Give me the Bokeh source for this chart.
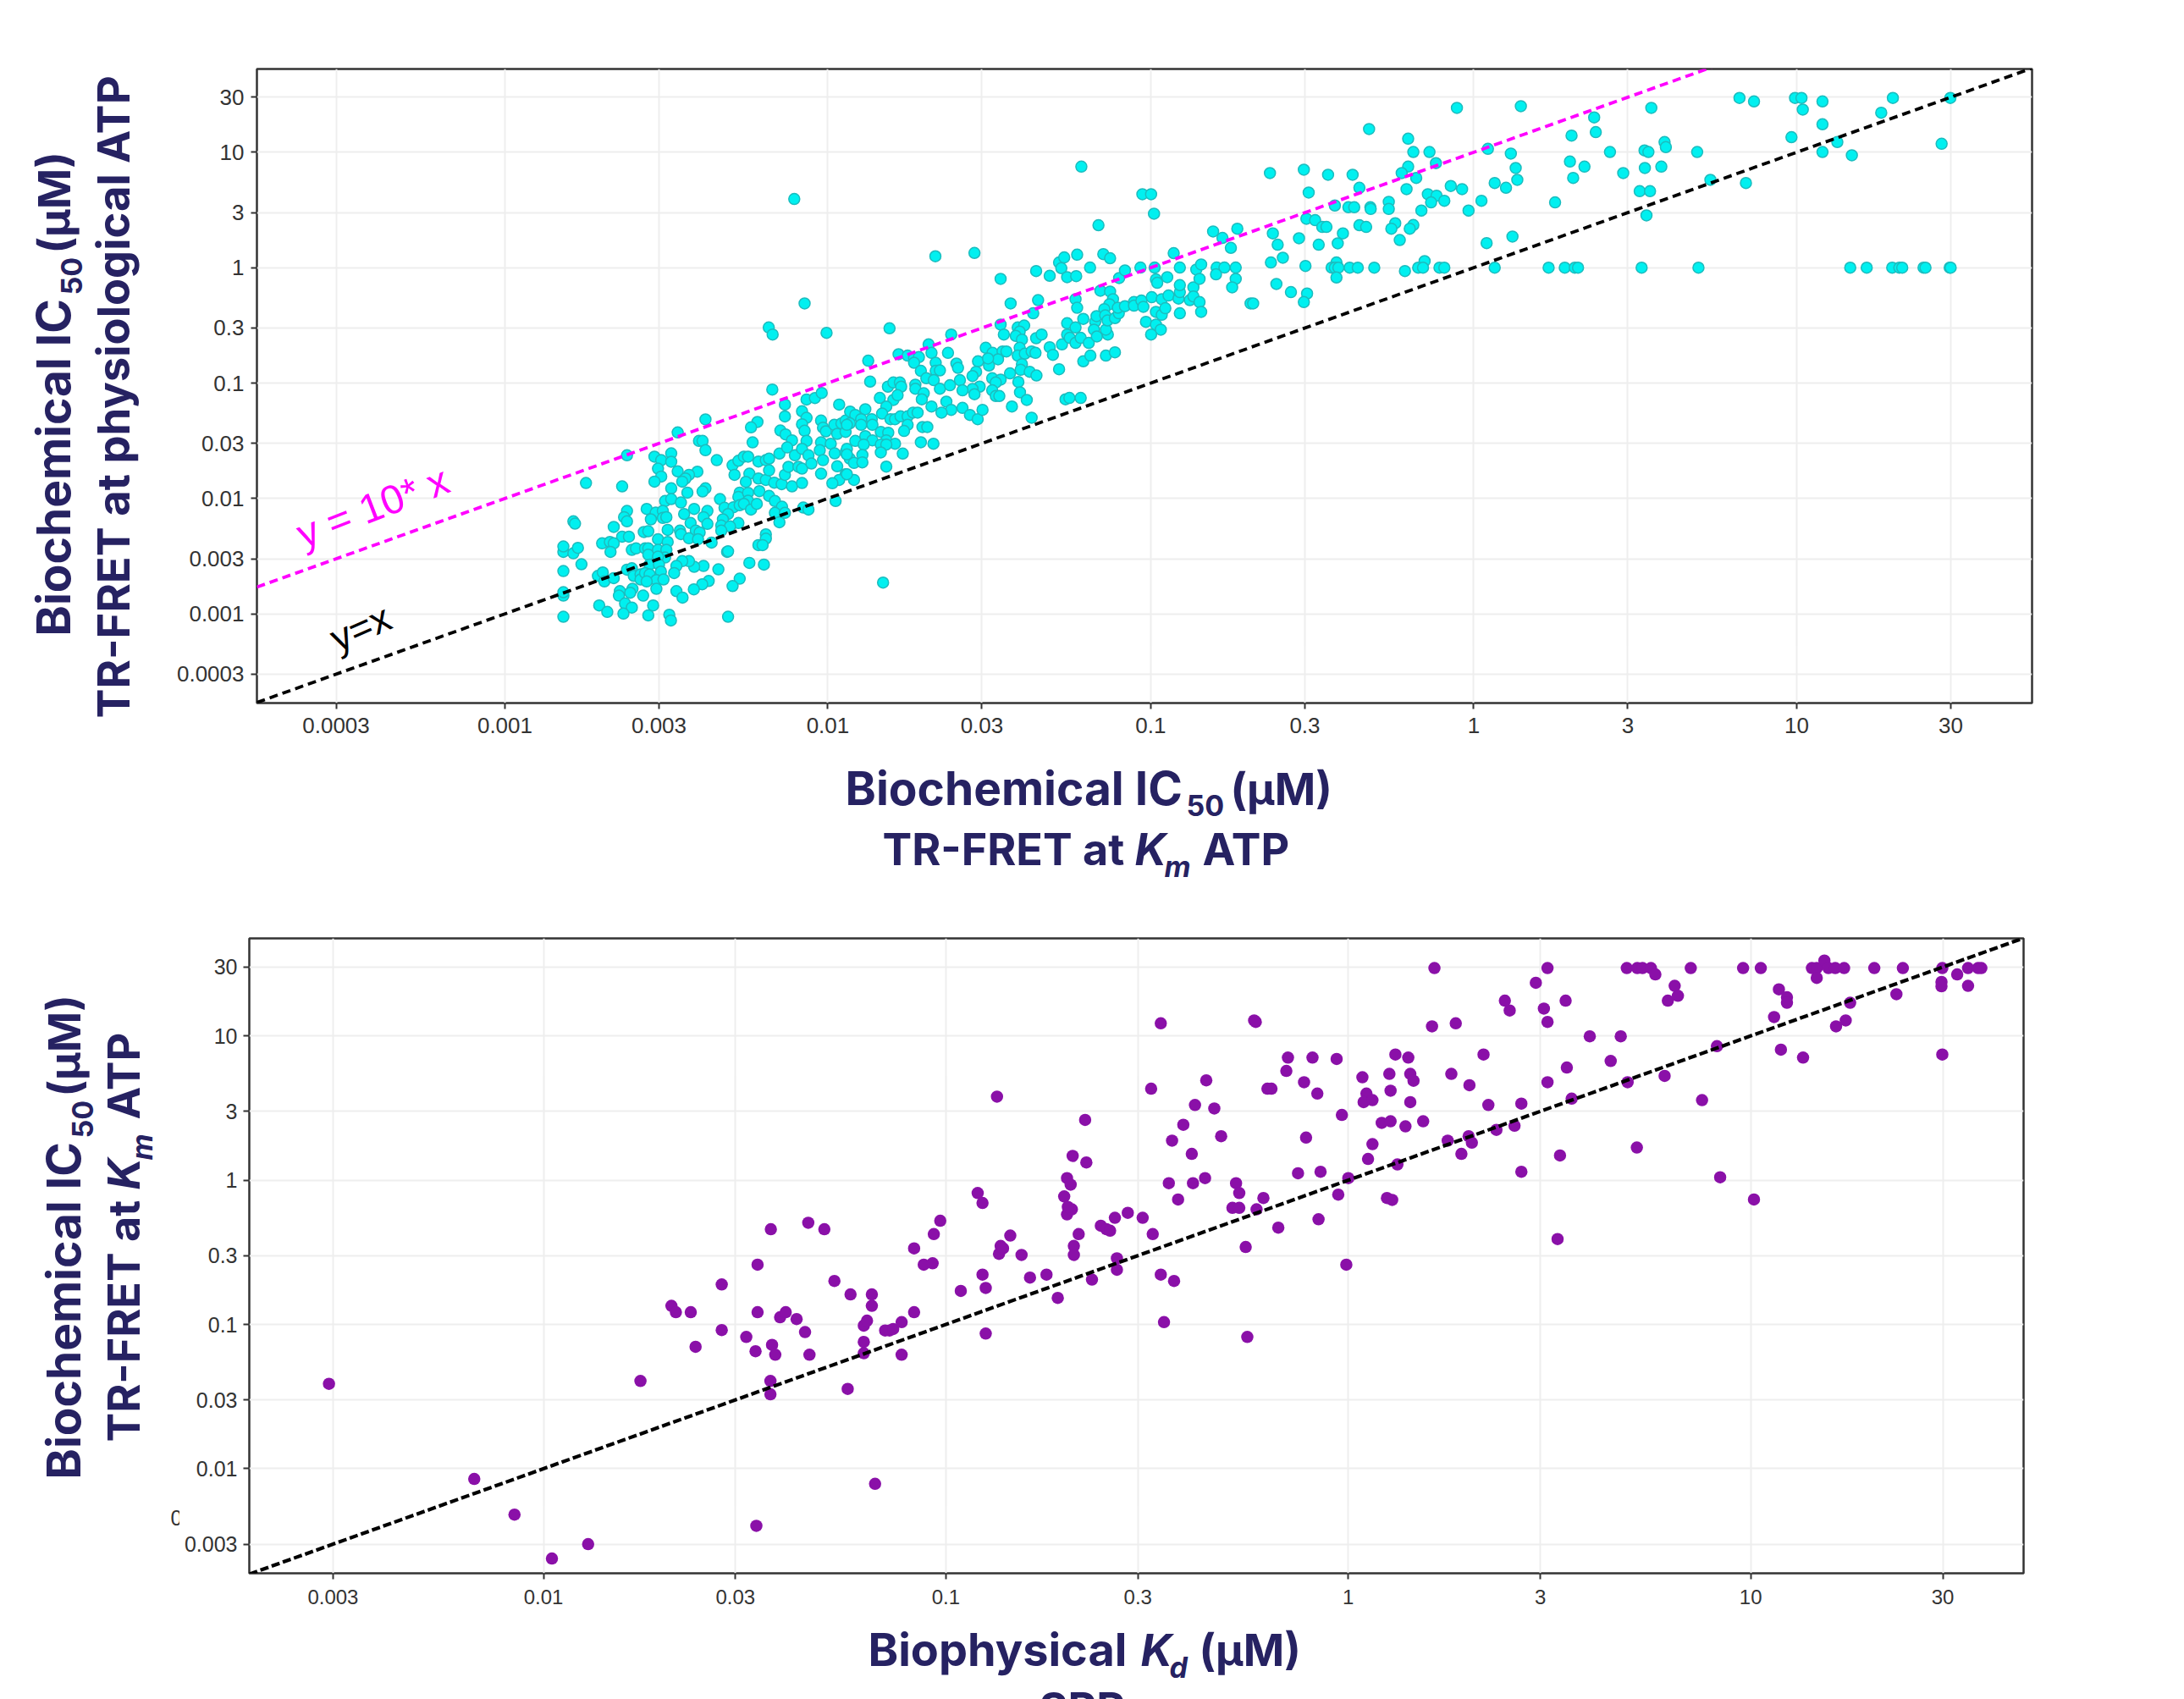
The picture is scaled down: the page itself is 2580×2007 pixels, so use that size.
from bokeh.plotting import figure
from bokeh.layouts import column, row
from bokeh.models import Range1d, FixedTicker, Label
from bokeh.embed import file_html
from bokeh.resources import INLINE
import numpy as np

# log10 of the values (uM) -- top panel, x = Km ATP, y = physiological ATP
low_x = [-2.819,-2.819,-2.819,-2.819,-2.819,-2.819,-2.788,-2.774,-2.763,-2.788,-2.783,-2.749,-2.637,-2.622,-2.465,-2.379,-2.399,-2.388,-2.379,-2.344,
-2.537,-2.516,-2.485,-2.485,-2.526,-2.516,-2.537,-2.465,-2.404,-2.430,-2.441,-2.451,-2.485,-2.435,-2.379,-2.388,-2.504,-2.485,-2.455,-2.622,
-2.631,-2.622,-2.663,-2.561,-2.533,-2.511,-2.414,-2.373,-2.445,-2.385,-2.334,-2.320,-2.292,-2.309,-2.325,-2.548,-2.511,-2.500,-2.425,-2.373,
-2.330,-2.277,-2.303,-2.330,-2.570,-2.556,-2.496,-2.458,-2.455,-2.409,-2.397,-2.430,-2.402,-2.360,-2.637,-2.616,-2.699,-2.675,-2.663,-2.673,
-2.526,-2.496,-2.607,-2.594,-2.566,-2.556,-2.556,-2.526,-2.500,-2.504,-2.526,-2.312,-2.309,-2.192,-2.192,-2.215,-2.202,-2.243,-2.198,-2.339,
-2.385,-2.414,-2.430,-2.451,-2.469,-2.476,-2.622,-2.607,-2.712,-2.697,-2.692,-2.663,-2.552,-2.523,-2.517,-2.601,-2.580,-2.580,-2.566,-2.552,
-2.531,-2.509,-2.561,-2.273,-2.295,-2.369,-2.389,-2.415,-2.469,-2.450,-2.644,-2.647,-2.605,-2.612,-2.572,-2.531,-2.628,-2.607,-2.708,-2.683,
-2.633,-2.541,-2.556,-2.491,-2.486,-2.309,-1.829]
low_y = [-3.025,-2.842,-2.812,-2.629,-2.463,-2.416,-2.475,-2.428,-2.570,-2.198,-2.218,-1.866,-1.895,-1.626,-1.428,-1.315,-1.501,-1.501,-1.582,-1.668,
-1.638,-1.668,-1.609,-1.682,-1.741,-1.810,-1.854,-1.765,-1.768,-1.795,-1.827,-1.854,-1.912,-1.949,-1.912,-1.939,-2.022,-2.005,-2.035,-2.108,
-2.162,-2.198,-2.247,-2.091,-2.123,-2.108,-2.091,-2.108,-2.135,-2.162,-2.005,-2.081,-2.076,-2.135,-2.181,-2.181,-2.169,-2.162,-2.213,-2.220,
-2.235,-2.213,-2.242,-2.279,-2.291,-2.284,-2.272,-2.279,-2.309,-2.279,-2.294,-2.345,-2.353,-2.382,-2.331,-2.331,-2.389,-2.377,-2.389,-2.463,
-2.353,-2.377,-2.446,-2.433,-2.433,-2.433,-2.487,-2.446,-2.446,-2.512,-2.504,-2.463,-2.458,-2.311,-2.348,-2.404,-2.404,-2.558,-2.573,-2.614,
-2.585,-2.592,-2.543,-2.543,-2.585,-2.646,-2.617,-2.605,-2.671,-2.641,-2.719,-2.690,-2.573,-2.573,-2.634,-2.671,-2.658,-2.702,-2.646,-2.658,
-2.707,-2.702,-2.719,-2.695,-2.759,-2.715,-2.744,-2.788,-2.803,-2.859,-2.803,-2.842,-2.783,-2.817,-2.842,-2.783,-2.910,-2.945,-2.927,-2.983,
-2.998,-2.927,-3.013,-3.008,-3.057,-3.025,-2.729]

up_x = [-2.295,-2.277,-2.260,-2.247,-2.289,-2.243,-2.254,-2.215,-2.192,-2.182,-2.215,-2.192,-2.182,-2.150,-2.166,-2.143,-2.133,-2.122,-2.111,-2.080,
-2.273,-2.277,-2.247,-2.247,-2.273,-2.260,-2.238,-2.220,-2.212,-2.182,-2.164,-2.142,-2.164,-2.133,-2.150,-2.076,-2.060,-2.218,-2.238,-2.233,
-2.172,-2.183,-2.171,-2.004,-2.072,-2.133,-2.133,-2.066,-2.040,-2.019,-2.080,-2.066,-2.080,-2.072,-2.066,-2.147,-2.131,-2.111,-2.126,-2.102,
-2.080,-2.060,-2.091,-2.080,-2.051,-2.021,-2.015,-2.006,-2.021,-1.991,-2.025,-2.015,-2.021,-1.979,-1.971,-1.945,-1.965,-1.986,-1.976,-1.965,
-1.980,-1.958,-1.971,-1.945,-1.945,-1.945,-2.104]
up_y = [-1.712,-1.673,-1.638,-1.638,-1.795,-1.785,-1.856,-1.680,-1.668,-1.655,-1.827,-1.839,-1.756,-1.611,-1.863,-1.876,-1.795,-1.726,-1.895,-1.866,
-1.949,-1.986,-1.951,-2.020,-2.059,-2.047,-2.096,-2.047,-1.937,-1.978,-2.022,-2.071,-2.125,-2.125,-2.206,-2.079,-2.096,-1.337,-1.384,-1.514,
-1.056,-0.518,-0.579,-0.565,-0.310,-1.186,-1.289,-1.142,-1.130,-1.086,-1.244,-1.301,-1.357,-1.413,-1.501,-1.411,-1.445,-1.496,-1.558,-1.626,
-1.570,-1.626,-1.726,-1.741,-1.697,-1.325,-1.386,-1.418,-1.514,-1.526,-1.582,-1.668,-1.785,-1.609,-1.721,-1.790,-1.839,-1.868,-2.022,-1.186,
-1.362,-1.350,-1.440,-1.423,-1.325,-1.599,0.595]

mid_x = [-1.026,-0.999,-0.990,-1.667,-1.546,-1.162,-1.809,-1.618,-1.688,-1.875,-1.869,-1.781,-1.753,-1.733,-1.718,-1.733,-1.679,-1.628,-1.712,-1.666,
-1.666,-1.653,-1.602,-1.597,-1.695,-1.672,-1.591,-1.653,-1.622,-1.814,-1.797,-1.777,-1.773,-1.729,-1.729,-1.703,-1.709,-1.679,-1.633,-1.618,
-1.648,-1.583,-1.560,-1.536,-1.521,-1.839,-1.797,-1.784,-1.819,-1.832,-1.884,-1.931,-1.806,-1.792,-1.775,-1.753,-1.736,-1.722,-1.753,-1.764,
-1.864,-1.915,-1.897,-1.897,-1.862,-1.932,-1.941,-1.707,-1.692,-1.712,-1.673,-1.768,-1.819,-1.919,-1.941,-1.836,-1.813,-1.884,-1.915,-1.862,
-1.819,-1.792,-1.836,-1.889,-1.819,-1.836,-1.893,-1.932,-1.919,-1.893,-1.941,-1.941,-1.215]
mid_y = [0.637,0.637,0.468,0.099,0.128,0.368,-0.525,-0.579,-0.665,-0.806,-0.987,-0.750,-0.762,-0.782,-0.775,-0.824,-0.738,-0.738,-0.894,-0.824,
-0.894,-0.890,-0.831,-0.868,-0.958,-0.975,-0.975,-1.049,-1.019,-1.031,-0.995,-0.995,-1.031,-1.014,-1.049,-1.088,-1.141,-1.203,-1.161,-1.232,
-1.256,-1.215,-1.276,-1.313,-1.232,-1.129,-1.146,-1.105,-1.203,-1.264,-1.227,-1.247,-1.313,-1.313,-1.288,-1.288,-1.256,-1.256,-1.362,-1.415,
-1.313,-1.276,-1.313,-1.362,-1.362,-1.349,-1.362,-1.381,-1.381,-1.513,-1.526,-1.611,-1.724,-1.839,-1.790,-1.423,-1.430,-1.460,-1.501,-1.496,
-1.496,-1.526,-1.533,-1.533,-1.533,-1.601,-1.623,-1.655,-1.692,-1.687,-1.570,-1.618,0.876]

high_x = [-1.511,-1.490,-1.459,-1.447,-1.535,-1.541,-1.552,-1.501,-1.473,-1.504,-1.491,-1.465,-1.480,-1.436,-1.491,-1.480,-1.469,-1.530,-1.552,-1.546,
-1.583,-1.412,-1.392,-1.406,-1.418,-1.399,-1.406,-1.412,-1.390,-1.369,-1.357,-1.399,-1.403,-1.375,-1.354,-1.410,-1.405,-1.384,-1.430,-1.369,
-1.465,-1.455,-1.434,-1.349,-1.364,-1.465,-1.355,-1.313,-1.355,-1.338,-1.313,-1.303,-1.275,-1.284,-1.259,-1.259,-1.251,-1.233,-1.233,-1.217,
-1.192,-1.209,-1.209,-1.187,-1.172,-1.176,-1.167,-1.139,-1.111,-1.133,-1.139,-1.264,-1.252,-1.217,-1.233,-1.228,-1.284,-1.268,-1.277,-1.259,
-1.231,-1.228,-1.188,-1.147,-1.126,-1.156,-1.126,-1.117,-1.128,-1.144,-1.168,-1.141,-1.134,-1.111,-1.099,-1.102,-1.080,-1.098,-1.080,-1.032,
-0.988,-1.052,-1.052,-1.029,-1.023,-0.997,-0.966,-0.945,-0.914,-0.910,-0.910,-0.879,-0.868,-0.868,-0.849,-0.844,-0.984,-0.980,-0.949,-0.929,
-0.910,-0.859,-0.844,-0.849,-0.984,-0.966,-0.955,-0.910,-1.015,-0.984,-0.969,-0.999,-0.807,-0.778,-0.732,-0.752,-0.796,-0.772,-0.737,-0.798,
-0.737,-0.748,-0.691]
high_y = [-0.694,-0.738,-0.726,-0.726,-0.811,-0.902,-0.939,-0.848,-0.794,-0.787,-0.958,-0.970,-0.995,-0.916,-1.063,-1.112,-1.112,-1.031,-1.051,-1.097,
-1.063,-0.518,-0.501,-0.554,-0.591,-0.623,-0.694,-0.762,-0.745,-0.726,-0.738,-0.836,-0.885,-0.902,-0.934,-0.990,-1.080,-1.146,-1.203,-1.300,
-0.493,-0.579,-0.310,-0.281,-0.395,-0.097,-0.029,-0.070,-0.611,-0.579,-0.689,-0.755,-0.665,-0.880,-0.481,-0.579,-0.608,-0.518,-0.652,-0.608,
-0.652,-0.444,-0.811,-0.762,-0.469,-0.537,-0.596,-0.762,-0.733,-0.579,-0.537,-1.141,-1.129,-1.129,-0.273,-0.347,0.045,0.089,-0.004,-0.082,
-0.073,0.113,0.001,0.118,0.082,-0.200,-0.207,-0.273,-0.317,-0.359,-0.420,-0.413,-0.457,-0.437,-0.395,-0.347,-0.334,-0.090,-0.024,0.001,
0.001,-0.298,-0.329,-0.285,-0.339,-0.256,-0.273,-0.241,-0.268,-0.212,-0.151,-0.281,-0.170,-0.249,-0.298,-0.383,-0.102,-0.131,-0.082,0.126,
0.001,-0.016,0.028,-0.097,-0.383,-0.408,-0.351,-0.395,-0.469,-0.493,-0.537,-0.579,0.314,0.258,0.338,0.172,0.001,0.001,0.001,-0.058,
-0.097,-0.170,-0.310]

top_x = [-0.631,-0.526,-0.451,-0.375,-0.324,-0.203,-0.187,-0.137,-0.117,-0.203,-0.223,-0.178,-0.354,-0.511,-0.208,-0.052,0.146,0.373,0.378,0.303,
0.115,0.044,0.130,0.135,0.065,0.100,-0.071,-0.036,0.298,0.343,0.308,0.024,0.252,-0.016,-0.142,-0.115,-0.132,-0.091,-0.162,-0.430,
-0.388,-0.370,-0.320,-0.319,-0.263,-0.263,-0.518,-0.491,-0.469,-0.456,-0.405,-0.354,-0.333,-0.243,-0.255,-0.187,-0.198,-0.622,-0.607,-0.541,
-0.480,-0.421,-0.229,0.040,0.120,-0.628,-0.591,-0.521,-0.425,-0.440,-0.430,-0.419,-0.384,-0.359,-0.308,-0.425,-0.213,-0.152,-0.172,-0.157,
-0.106,-0.091,0.065,0.232,0.282,0.313,0.323,-0.611,-0.566,-0.516,-0.526,-0.683,
0.422,0.463,0.529,0.541,0.591,0.595,0.692,0.530,0.581,0.514,0.546,0.535,0.550,0.733,0.843,0.520,0.696,0.823,0.868,0.995,
1.015,1.019,1.080,1.080,0.984,1.126,1.080,1.171,1.262,1.298,1.476,1.449,1.166,1.217,1.296,1.318,1.327,1.393,1.399,1.474,1.477]
top_y = [0.820,0.849,0.805,0.805,1.202,1.118,1.003,1.003,0.906,0.876,0.820,0.778,0.693,0.651,0.681,1.385,1.400,1.302,1.175,1.145,
0.989,1.030,0.864,0.761,0.734,0.693,0.708,0.681,0.920,0.876,0.778,0.580,0.566,0.495,0.637,0.624,0.566,0.580,0.495,0.539,
0.524,0.524,0.524,0.509,0.571,0.509,0.424,0.412,0.353,0.353,0.297,0.368,0.353,0.385,0.338,0.370,0.338,0.297,0.199,0.255,
0.199,0.211,0.240,0.213,0.270,0.045,0.086,0.015,0.045,0,0,0,0,0,0,-0.085,-0.029,0.057,0,0,
0,0,0,0,0,0,0,-0.141,-0.212,-0.224,-0.298,-0.310,
1.003,0.820,1.016,1.003,1.089,1.045,1.003,0.864,0.876,0.663,0.663,0.453,1.385,0.761,0.734,0,0,1.471,1.441,1.471,
1.471,1.370,1.441,1.243,1.131,1.089,1.003,0.974,1.343,1.471,1.471,1.074,0,0,0,0,0,0,0,0,0]

# bottom panel, x = SPR Kd, y = IC50 at Km ATP
spr_low_x = [-2.533,-2.172,-2.072,-1.979,-1.889,-1.471,-1.176,-1.759,-1.682,-1.671,-1.634,-1.622,-1.557,-1.557,-1.496,-1.473,-1.468,-1.468,-1.435,-1.432,
-1.424,-1.436,-1.436,-1.412,-1.398,-1.371,-1.350,-1.339,-1.342,-1.302,-1.277,-1.244,-1.237,-1.204,-1.196,-1.204,-1.204,-1.184,-1.184,-1.151,
-1.140,-1.131,-1.110,-1.110,-1.079,-1.079,-1.055,-1.033,-1.030,-1.014,-0.963,-0.921,-0.909,-0.909,-0.901,-0.901,-0.873,-0.868,-0.864,-0.858,
-0.840,-0.812,-0.791,-0.750,-0.722,-0.706,-0.699,-0.690,-0.699,-0.687,-0.697,-0.685,-0.682,-0.682,-0.670,-0.654,-0.651]
spr_low_y = [-1.412,-2.071,-2.318,-2.623,-2.523,-2.396,-2.105,-1.392,-0.871,-0.915,-0.915,-1.155,-0.723,-1.039,-1.087,-1.186,-0.586,-0.915,-0.340,-1.142,
-1.210,-1.392,-1.484,-0.950,-0.915,-0.963,-1.053,-1.210,-0.295,-0.340,-0.699,-1.447,-0.792,-1.008,-0.974,-1.121,-1.200,-0.792,-0.871,-1.042,
-1.042,-1.032,-0.984,-1.210,-0.473,-0.915,-0.586,-0.576,-0.374,-0.281,-0.768,-0.089,-0.158,-0.655,-0.747,-1.063,0.579,-0.511,-0.456,-0.473,
-0.384,-0.518,-0.675,-0.655,-0.816,-0.113,0.014,-0.031,-0.237,-0.202,-0.185,0.168,-0.456,-0.518,-0.374,0.418,0.123]

spr_high_x = [-0.637,-0.615,-0.601,-0.592,-0.580,-0.548,-0.511,-0.486,-0.575,-0.575,-0.466,-0.433,-0.458,-0.490,-0.466,-0.446,-0.423,-0.386,-0.356,-0.438,
-0.410,-0.389,-0.381,-0.353,-0.333,-0.316,-0.279,-0.271,-0.288,-0.271,-0.211,-0.228,-0.255,-0.251,-0.174,-0.125,-0.069,-0.074,-0.005,-0.025,
0.000,-0.234,-0.230,-0.201,-0.191,-0.154,-0.150,-0.110,-0.089,-0.077,-0.105,-0.029,-0.016,0.035,0.045,0.038,0.060,0.102,0.105,0.117,
0.149,0.154,0.162,0.154,0.083,0.105,0.142,0.186,0.060,0.049,0.122,0.096,0.109,0.208,0.214,0.267,0.256,0.301,0.336,0.348,
0.247,0.281,0.299,0.307,0.368,0.413,0.430,0.430,0.389,0.401,0.466,0.486,0.495,0.495,0.540,0.495,0.543,0.555,0.526,0.520,
0.600,0.677,0.652,0.694,0.717,0.692,0.718,0.731,0.752,0.763,0.811,0.794,0.819,0.786,0.851,0.879,0.916,0.924,0.981,1.025,
1.008,1.058,1.070,1.090,1.090,1.075,1.130,1.152,1.164,1.183,1.164,1.193,1.210,1.232,1.212,1.236,1.247,1.307,1.362,1.378,
1.476,1.474,1.474,1.476,1.513,1.540,1.540,1.565,1.573]
spr_high_y = [-0.689,-0.316,-0.340,-0.350,-0.261,-0.226,-0.261,-0.374,-0.542,-0.621,-0.655,-0.699,-0.984,0.634,1.087,-0.021,-0.134,-0.021,0.014,0.274,
0.384,0.182,0.521,0.692,0.497,0.305,-0.021,-0.089,-0.192,-0.192,-0.124,-0.202,-0.463,-1.087,-0.329,0.048,0.058,-0.271,-0.586,-0.100,
0.014,1.107,1.097,0.634,0.634,0.757,0.850,0.679,0.850,0.600,0.295,0.840,0.452,0.713,0.600,0.541,0.555,0.737,0.620,0.871,
0.850,0.737,0.689,0.541,0.397,0.408,0.373,0.408,0.250,0.147,0.109,-0.124,-0.137,1.066,1.470,1.087,0.737,0.658,0.871,0.521,
0.274,0.182,0.305,0.260,0.349,0.377,0.531,0.058,1.244,1.176,1.368,1.189,1.470,1.097,1.244,0.679,0.781,0.565,0.171,-0.408,
0.997,0.997,0.826,0.679,0.226,1.470,1.470,1.470,1.470,1.426,1.347,1.244,1.278,0.723,1.470,0.555,0.929,0.020,1.470,1.470,
-0.134,1.131,1.323,1.268,1.230,0.905,0.850,1.470,1.470,1.522,1.402,1.470,1.470,1.470,1.066,1.107,1.230,1.470,1.289,1.470,
1.470,1.374,1.344,0.871,1.426,1.470,1.347,1.470,1.470]

ticks_top = [0.0003, 0.001, 0.003, 0.01, 0.03, 0.1, 0.3, 1, 3, 10, 30]
tick_labels_top = ["0.0003", "0.001", "0.003", "0.01", "0.03", "0.1", "0.3", "1", "3", "10", "30"]
ticks_bottom = [0.003, 0.01, 0.03, 0.1, 0.3, 1, 3, 10, 30]
tick_labels_bottom = ["0.003", "0.01", "0.03", "0.1", "0.3", "1", "3", "10", "30"]

NAVY = "#262262"
TITLE_FONT = "Inter"
TICK_FONT = "Liberation Sans"
GRID = "#eeeeee"


def style(p, ticks, labels, fx, fy, sx, sy):
    over = dict(zip(ticks, labels))
    for ax, standoff, fs in ((p.xaxis[0], sx, fx), (p.yaxis[0], sy, fy)):
        ax.ticker = FixedTicker(ticks=ticks)
        ax.major_label_overrides = over
        ax.major_tick_out = 7
        ax.major_tick_in = 0
        ax.minor_tick_line_color = None
        ax.axis_line_color = None
        ax.major_tick_line_color = "#333333"
        ax.major_tick_line_width = 2
        ax.major_label_text_font = TICK_FONT
        ax.major_label_text_font_size = fs
        ax.major_label_text_color = "#333333"
        ax.major_label_standoff = standoff
    p.xgrid.grid_line_color = GRID
    p.ygrid.grid_line_color = GRID
    p.xgrid.grid_line_width = 2
    p.ygrid.grid_line_width = 2
    p.outline_line_color = "#333333"
    p.outline_line_width = 2.5


def text_panel(w, h):
    f = figure(width=w, height=h, x_axis_location=None, y_axis_location=None, min_border=0,
               x_range=Range1d(0, 1), y_range=Range1d(0, 1), toolbar_location=None,
               output_backend="svg", outline_line_color=None)
    f.grid.visible = False
    return f


def put(p, origin_y, text, x, y, size, angle=0, bold=True, italic=False, color=NAVY, font=TITLE_FONT, lift=0.37):
    st = "bold italic" if bold and italic else ("bold" if bold else ("italic" if italic else "normal"))
    if angle == 90:
        x -= lift * size
    else:
        y -= lift * size
    p.add_layout(Label(x=x, y=y - origin_y, x_units="canvas", y_units="canvas", text=text,
                       angle=angle, angle_units="deg", text_font=font, text_font_size=f"{size}px",
                       text_font_style=st, text_color=color, text_align="left", text_baseline="alphabetic"))


SZ, SZ_BIG, SUB = 52, 55, 34

# ---------- top panel
lo, hi = 10 ** -3.768, 10 ** 1.729
p1 = figure(width=2382, height=878, x_axis_type="log", y_axis_type="log",
            x_range=Range1d(lo, hi), y_range=Range1d(10 ** -3.773, 10 ** 1.722),
            min_border_left=113, min_border_right=172, min_border_top=81, min_border_bottom=48,
            toolbar_location=None, output_backend="svg")
style(p1, ticks_top, tick_labels_top, "26px", "26px", 10, 8)
tx = 10.0 ** np.array(low_x + up_x + mid_x + high_x + top_x)
ty = 10.0 ** np.array(low_y + up_y + mid_y + high_y + top_y)
p1.scatter(tx, ty, size=13, fill_color="#00f0f0", line_color="#1cbcbe", line_width=1.5)
p1.line([lo, hi], [lo, hi], line_color="black", line_width=3.8, line_dash="10 6")
p1.line([lo, hi], [10 * lo, 10 * hi], line_color="#ff00ff", line_width=3.8, line_dash="10 6")
put(p1, 0, "y = 10* x", 352 - 190, 632, 48, angle=21, bold=False, color="#ff00ff", font="Liberation Sans", lift=0)
put(p1, 0, "y=x", 392 - 190, 756, 46, angle=24, bold=False, color="black", font="Liberation Sans", lift=0)

left1 = text_panel(190, 878)
put(left1, 0, "Biochemical IC", 83, 751, SZ_BIG, angle=90)
put(left1, 0, "50", 97, 348, SUB, angle=90)
put(left1, 0, "(µM)", 83, 299, SZ, angle=90)
put(left1, 0, "TR-FRET at physiological ATP", 153, 848, 52.5, angle=90)

below1 = text_panel(2572, 182)
B1 = 878
put(below1, B1, "Biochemical IC", 998, 951, SZ_BIG)
put(below1, B1, "50", 1401, 964, SUB)
put(below1, B1, "(µM)", 1453, 951, SZ)
put(below1, B1, "TR-FRET at", 1042, 1022, SZ)
put(below1, B1, "K", 1340, 1022, SZ, italic=True)
put(below1, B1, "m", 1375, 1036, SUB, italic=True)
put(below1, B1, "ATP", 1420, 1022, SZ)

# ---------- bottom panel
lo2, hi2 = 10 ** -2.731, 10 ** 1.678
O2 = 1060
LEFT2 = 212
p2 = figure(width=2572 - LEFT2, height=848, x_axis_type="log", y_axis_type="log",
            x_range=Range1d(lo2, hi2), y_range=Range1d(10 ** -2.725, 10 ** 1.676),
            min_border_left=82, min_border_right=182, min_border_top=48, min_border_bottom=50,
            toolbar_location=None, output_backend="svg")
style(p2, ticks_bottom, tick_labels_bottom, "24px", "25px", 12, 7)
p2.scatter(10.0 ** np.array(spr_low_x + spr_high_x), 10.0 ** np.array(spr_low_y + spr_high_y),
           size=14.5, fill_color="#8a10a8", line_color=None)
p2.line([lo2, hi2], [lo2, hi2], line_color="black", line_width=4.2, line_dash="10 4")

left2 = text_panel(LEFT2, 848)
put(left2, O2, "Biochemical IC", 95, 1747, SZ_BIG, angle=90)
put(left2, O2, "50", 110, 1344, SUB, angle=90)
put(left2, O2, "(µM)", 95, 1295, SZ, angle=90)
put(left2, O2, "TR-FRET at", 165, 1703, SZ, angle=90)
put(left2, O2, "K", 165, 1405, SZ, angle=90, italic=True)
put(left2, O2, "m", 180, 1370, SUB, angle=90, italic=True)
put(left2, O2, "ATP", 165, 1322, SZ, angle=90)
# stray clipped tick-label fragment left of the 0.003 tick
put(left2, O2, "0", 201, 1802, 25, bold=False, color="#333333", font=TICK_FONT)

below2 = text_panel(2572, 99)
B2 = 1908
put(below2, B2, "Biophysical", 1025, 1968, 54)
put(below2, B2, "K", 1347, 1968, SZ, italic=True)
put(below2, B2, "d", 1381, 1982, SUB, italic=True)
put(below2, B2, "(µM)", 1416, 1968, SZ)
put(below2, B2, "SPR", 1227, 2037, SZ)

page = column(row(column(left1), p1, spacing=0), below1, row(column(left2), p2, spacing=0), below2, spacing=0)
open("out.html", "w").write(file_html(page, INLINE))
